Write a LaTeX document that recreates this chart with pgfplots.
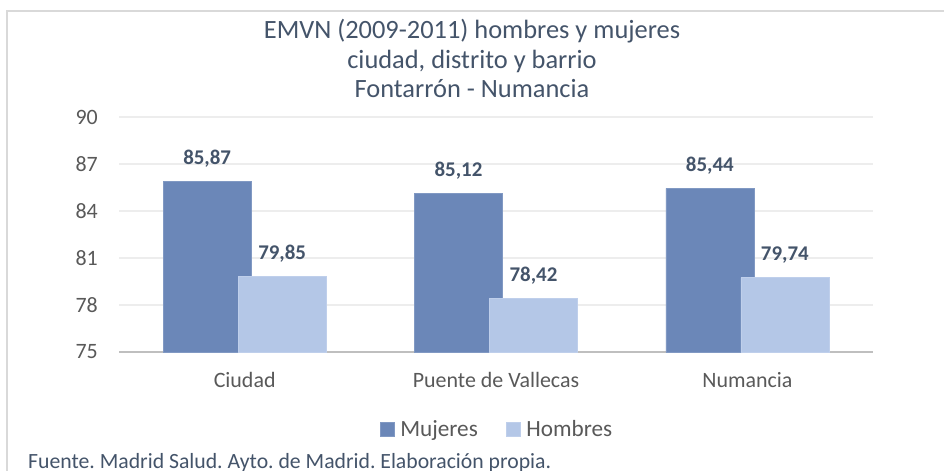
\documentclass[border=0pt]{standalone}
\usepackage{fontspec}
\setmainfont{Carlito}
\usepackage{pgfplots}
\pgfplotsset{compat=1.18}
\frenchspacing
\definecolor{mujer}{HTML}{6B87B8}
\definecolor{hombre}{HTML}{B4C7E7}
\definecolor{labelc}{HTML}{44546A}
\definecolor{tickc}{HTML}{595959}
\definecolor{gridc}{HTML}{EDEDED}
\definecolor{axisc}{HTML}{BFBFBF}
\definecolor{framec}{HTML}{D9D9D9}

\pgfplotsset{
  square legend/.style={
    legend image code/.code={\fill[##1] (0bp,-7bp) rectangle (14bp,7bp);}
  }
}

\begin{document}
\begin{tikzpicture}
\clip (-119bp,-119bp) rectangle (825bp,352bp);
\fill[white] (-119bp,-119bp) rectangle (825bp,352bp);
% chart frame (only top and left edges fall inside the page)
\draw[framec, line width=2bp] (-112bp,-140bp) rectangle (850bp,341bp);

\begin{axis}[
  at={(0,0)}, anchor=south west,
  scale only axis, width=754bp, height=235bp,
  xmin=-0.5, xmax=2.5, ymin=75, ymax=90,
  ytick={75,78,81,84,87,90},
  xtick={0,1,2},
  xticklabels={Ciudad, Puente de Vallecas, Numancia},
  major tick length=0pt,
  axis x line*=bottom, axis y line*=left,
  separate axis lines,
  x axis line style={draw=axisc, line width=2bp, -},
  y axis line style={draw=none},
  ymajorgrids, grid style={gridc, line width=1.3bp},
  /pgf/number format/assume math mode=true,
  tick label style={font=\fontsize{22}{26}\selectfont, text=tickc, inner sep=0pt},
  yticklabel style={anchor=east, xshift=-21bp},
  xticklabel style={anchor=base, yshift=-35bp},
  ybar, bar width=88bp,
  nodes near coords={\pgfmathprintnumber[fixed, fixed zerofill, precision=2, use comma]{\pgfplotspointmeta}},
  every node near coord/.append style={font=\bfseries\fontsize{21}{25}\selectfont, text=labelc, anchor=base, inner sep=0pt, yshift=17bp},
  legend style={draw=none, fill=none, at={(0.5,-0.3277)}, anchor=center,
    font=\fontsize{23.3}{28}\selectfont, text=tickc,
    nodes={inner sep=0pt}, column sep=6bp,
    /tikz/every even column/.append style={column sep=28bp}},
  legend columns=2,
  square legend,
]
\addplot[fill=mujer, draw=mujer!85!white, line width=0.6bp, bar shift=-37.5bp]
  coordinates {(0,85.87) (1,85.12) (2,85.44)};
\addlegendentry{Mujeres}
\addplot[fill=hombre, draw=hombre!85!white, line width=0.6bp, bar shift=37.5bp]
  coordinates {(0,79.85) (1,78.42) (2,79.74)};
\addlegendentry{Hombres}
\end{axis}

% title
\begin{scope}[every node/.style={font=\fontsize{26.5}{30}\selectfont, text=labelc, anchor=base, inner sep=0pt}]
\node at (353bp,313bp) {EMVN (2009-2011) hombres y mujeres};
\node at (353bp,283.5bp) {ciudad, distrito y barrio};
\node at (353bp,254bp) {Fontarrón - Numancia};
\end{scope}

% source note
\node[font=\fontsize{21.8}{26}\selectfont, text=labelc, anchor=base west, inner sep=0pt]
  at (-91bp,-116bp) {Fuente. Madrid Salud. Ayto. de Madrid. Elaboración propia.};
\end{tikzpicture}
\end{document}
